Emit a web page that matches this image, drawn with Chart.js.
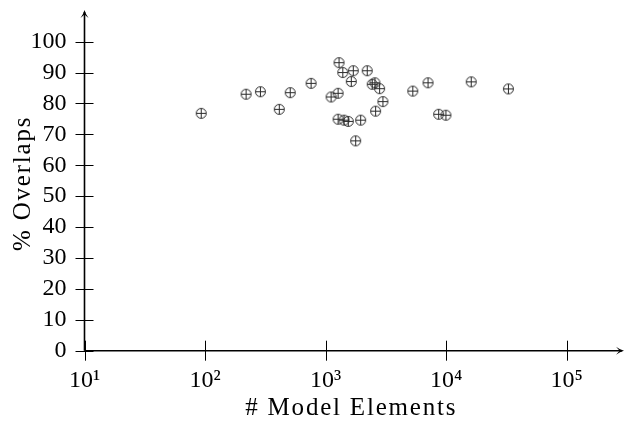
<!DOCTYPE html>
<html><head><meta charset="utf-8">
<script src="https://cdn.jsdelivr.net/npm/chart.js@4/dist/chart.umd.min.js"></script>
<style>html,body{margin:0;padding:0;background:#fff}canvas{display:block}</style>
</head><body>
<canvas id="c" width="625" height="423"></canvas>
<script>
// ---- data ----
const modelElements = [93, 219, 288, 413, 509, 758, 1293, 1388, 1697, 2216, 1634, 2437, 2566, 2805, 2987, 2599, 1111, 1269, 1269, 1422, 1543, 1954, 1776, 5286, 7072, 16155, 32850, 8670, 9961];
const overlapPercent = [76.8, 83.0, 83.8, 78.1, 83.5, 86.5, 93.2, 90.0, 90.6, 90.6, 87.1, 86.2, 86.7, 84.8, 80.6, 77.5, 82.1, 83.3, 74.9, 74.6, 74.2, 74.6, 67.9, 84.0, 86.7, 87.0, 84.7, 76.5, 76.2];
const xTickValues = [10, 100, 1000, 10000, 100000];
const xTickLabels = ['10\u00B9', '10\u00B2', '10\u00B3', '10\u2074', '10\u2075'];
const yTickValues = [0, 10, 20, 30, 40, 50, 60, 70, 80, 90, 100];
const xTitle = '# Model Elements';
const yTitle = '% Overlaps';

const FONT = "'Liberation Serif', 'DejaVu Serif', serif";

function makeMarker() {
  const c = document.createElement('canvas');
  c.width = 13; c.height = 13;
  const g = c.getContext('2d');
  g.strokeStyle = '#2a2a2a';
  g.lineWidth = 1;
  g.beginPath(); g.arc(6.5, 6.5, 5, 0, 2 * Math.PI); g.stroke();
  g.beginPath();
  g.moveTo(1.5, 6.5); g.lineTo(11.5, 6.5);
  g.moveTo(6.5, 1.5); g.lineTo(6.5, 11.5);
  g.stroke();
  return c;
}

const axesPlugin = {
  id: 'texAxes',
  beforeDraw(chart) {
    ['x', 'y'].forEach(id => {
      const s = chart.scales[id];
      if (s._wrappedTitle) return;
      const orig = s.drawTitle;
      s.drawTitle = function () {
        const ctx = this.ctx;
        const prev = ctx.letterSpacing;
        ctx.letterSpacing = '1.8px';
        orig.apply(this, arguments);
        ctx.letterSpacing = prev || '0px';
      };
      s._wrappedTitle = true;
    });
  },
  afterDraw(chart) {
    const ctx = chart.ctx;
    const xs = chart.scales.x, ys = chart.scales.y;
    const x0 = xs.left, y0 = ys.bottom;
    ctx.save();
    ctx.strokeStyle = '#000';
    ctx.fillStyle = '#000';
    ctx.lineWidth = 1;
    ctx.beginPath();
    xTickValues.forEach(v => {
      const px = Math.round(xs.getPixelForValue(v)) + 0.5;
      ctx.moveTo(px, y0 - 10); ctx.lineTo(px, y0 + 10);
    });
    yTickValues.forEach(v => {
      const py = Math.round(ys.getPixelForValue(v)) + 0.5;
      ctx.moveTo(x0 - 9, py); ctx.lineTo(x0 + 9, py);
    });
    ctx.stroke();
    ctx.lineWidth = 1.6;
    ctx.beginPath();
    ctx.moveTo(x0, y0); ctx.lineTo(chart.width - 3, y0);
    ctx.moveTo(x0, y0); ctx.lineTo(x0, ys.top - 4);
    ctx.stroke();
    function arrow(tx, ty, dx, dy) {
      const L = 8, W = 4;
      const nx = -dy, ny = dx;
      ctx.beginPath();
      ctx.moveTo(tx, ty);
      ctx.quadraticCurveTo(tx - dx * L * 0.5 + nx * 1, ty - dy * L * 0.5 + ny * 1, tx - dx * L + nx * W, ty - dy * L + ny * W);
      ctx.lineTo(tx - dx * L * 0.55, ty - dy * L * 0.55);
      ctx.lineTo(tx - dx * L - nx * W, ty - dy * L - ny * W);
      ctx.quadraticCurveTo(tx - dx * L * 0.5 - nx * 1, ty - dy * L * 0.5 - ny * 1, tx, ty);
      ctx.fill();
    }
    arrow(chart.width - 1, y0, 1, 0);
    arrow(x0, ys.top - 6, 0, -1);
    ctx.restore();
  }
};

new Chart(document.getElementById('c'), {
  type: 'scatter',
  data: {
    datasets: [{
      data: modelElements.map((v, i) => ({ x: v, y: overlapPercent[i] })),
      pointStyle: makeMarker(),
      pointRadius: 6,
      pointHoverRadius: 6
    }]
  },
  options: {
    responsive: false,
    animation: false,
    events: [],
    layout: { padding: { left: 0, right: 5, top: 16, bottom: 0 } },
    plugins: { legend: { display: false }, tooltip: { enabled: false } },
    scales: {
      x: {
        type: 'logarithmic',
        min: 10,
        max: 266500,
        grid: { display: false, drawTicks: false },
        border: { display: false },
        afterFit(s) { s.height = 72.3; s.paddingLeft = 0; s.paddingRight = 0; },
        afterBuildTicks(s) { s.ticks = xTickValues.map(v => ({ value: v })); },
        ticks: {
          autoSkip: false,
          maxRotation: 0,
          padding: 16,
          color: '#000',
          font: { family: FONT, size: 24 },
          callback: (v) => { const i = xTickValues.indexOf(v); return i >= 0 ? xTickLabels[i] : ''; }
        },
        title: {
          display: true, text: xTitle, color: '#000',
          font: { family: FONT, size: 25 },
          padding: { top: 0, bottom: 0 }
        }
      },
      y: {
        type: 'linear',
        min: 0,
        max: 108.3,
        grid: { display: false, drawTicks: false },
        border: { display: false },
        afterFit(s) { s.width = 84.5; s.paddingTop = 0; s.paddingBottom = 0; },
        afterBuildTicks(s) { s.ticks = yTickValues.map(v => ({ value: v })); },
        ticks: {
          autoSkip: false,
          padding: 18,
          color: '#000',
          font: { family: FONT, size: 24 },
          callback: (v) => String(v)
        },
        title: {
          display: true, text: yTitle, color: '#000',
          font: { family: FONT, size: 25 },
          padding: { top: 8, bottom: 0 }
        }
      }
    }
  },
  plugins: [axesPlugin]
});
</script>
</body></html>
